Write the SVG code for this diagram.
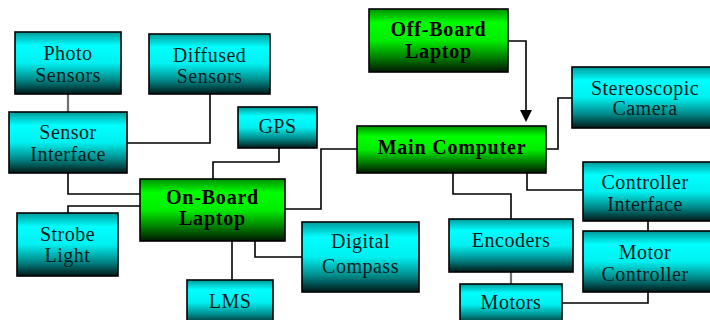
<svg xmlns="http://www.w3.org/2000/svg" width="710" height="320" viewBox="0 0 710 320">
<defs>
<linearGradient id="gc" x1="0" y1="0" x2="0" y2="1">
<stop offset="0" stop-color="#009a9a"/>
<stop offset="0.22" stop-color="#00ffff"/>
<stop offset="0.5" stop-color="#00f0f0"/>
<stop offset="0.78" stop-color="#008585"/>
<stop offset="1" stop-color="#001818"/>
</linearGradient>
<linearGradient id="gg" x1="0" y1="0" x2="0" y2="1">
<stop offset="0" stop-color="#009000"/>
<stop offset="0.22" stop-color="#00ff00"/>
<stop offset="0.5" stop-color="#00ee00"/>
<stop offset="0.78" stop-color="#007a00"/>
<stop offset="1" stop-color="#001800"/>
</linearGradient>
</defs>
<style>
.c{fill:url(#gc);stroke:#000;stroke-width:1.6}
.g{fill:url(#gg);stroke:#000;stroke-width:1.6}
.t{font-family:'Liberation Serif','DejaVu Serif',serif;font-size:20px;text-anchor:middle;letter-spacing:0.5px;fill:#001c1c}
.t .b{font-weight:bold;letter-spacing:0.8px;fill:#000}
.ln{fill:none;stroke:#000;stroke-width:1.6}
.gr{fill:none;stroke:#707070;stroke-width:2.2}
</style>
<rect width="710" height="320" fill="#fff"/>
<g id="connectors">
<path class="gr" d="M68 94V112"/>
<path class="ln" d="M127 143H210V94"/>
<path class="ln" d="M279 148V162H213V179"/>
<path class="ln" d="M68 173V194H140"/>
<path class="ln" d="M68 213V206H140"/>
<path class="ln" d="M285 209H321V149H357"/>
<path class="ln" d="M232 241V280"/>
<path class="ln" d="M255 241V257H302"/>
<path class="ln" d="M508 41H526V111"/>
<polygon points="520,110 532,110 526,122" fill="#000"/>
<path class="ln" d="M546 149H558V98H572"/>
<path class="ln" d="M453 173V194H511V219"/>
<path class="ln" d="M527 173V190H583"/>
<path class="ln" d="M648 221V231"/>
<path class="gr" d="M511 272V284"/>
<path class="ln" d="M562 303H648V292"/>
</g>
<g class="t" font-family="Liberation Serif, DejaVu Serif, serif">
<g id="photo-sensors"><rect class="c" x="15" y="32" width="106" height="62"/><text x="68" y="60">Photo</text><text x="68" y="82">Sensors</text></g>
<g id="diffused-sensors"><rect class="c" x="149" y="34" width="121" height="60"/><text x="209.5" y="62">Diffused</text><text x="209.5" y="83">Sensors</text></g>
<g id="sensor-interface"><rect class="c" x="9" y="112" width="118" height="61"/><text x="68" y="139">Sensor</text><text x="68" y="161">Interface</text></g>
<g id="gps"><rect class="c" x="238" y="107" width="79" height="41"/><text x="277.5" y="133">GPS</text></g>
<g id="off-board-laptop"><rect class="g" x="369" y="9" width="139" height="63"/><text class="b" x="438.5" y="36">Off-Board</text><text class="b" x="438.5" y="58">Laptop</text></g>
<g id="main-computer"><rect class="g" x="357" y="126" width="189" height="47"/><text class="b" x="452" y="154">Main Computer</text></g>
<g id="stereoscopic-camera"><rect class="c" x="572" y="67" width="146" height="61"/><text x="645" y="95">Stereoscopic</text><text x="645" y="115">Camera</text></g>
<g id="on-board-laptop"><rect class="g" x="140" y="179" width="145" height="62"/><text class="b" x="212.5" y="204">On-Board</text><text class="b" x="212.5" y="225">Laptop</text></g>
<g id="strobe-light"><rect class="c" x="17" y="213" width="101" height="63"/><text x="67.5" y="241">Strobe</text><text x="67.5" y="262">Light</text></g>
<g id="lms"><rect class="c" x="187" y="280" width="86" height="45"/><text x="230" y="308">LMS</text></g>
<g id="digital-compass"><rect class="c" x="302" y="222" width="117" height="70"/><text x="360.5" y="248">Digital</text><text x="360.5" y="273">Compass</text></g>
<g id="encoders"><rect class="c" x="449" y="219" width="124" height="53"/><text x="511" y="247">Encoders</text></g>
<g id="motors"><rect class="c" x="460" y="284" width="102" height="41"/><text x="511" y="309">Motors</text></g>
<g id="controller-interface"><rect class="c" x="583" y="162" width="135" height="59"/><text x="645" y="189">Controller</text><text x="645" y="211">Interface</text></g>
<g id="motor-controller"><rect class="c" x="583" y="231" width="135" height="61"/><text x="645" y="259">Motor</text><text x="645" y="281">Controller</text></g>
</g>
</svg>
